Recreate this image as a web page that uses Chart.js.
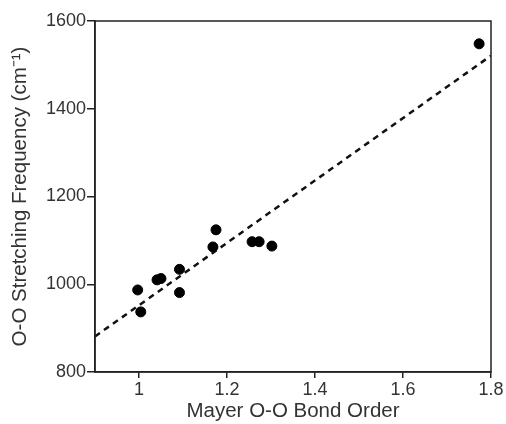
<!DOCTYPE html>
<html>
<head>
<meta charset="utf-8">
<script src="https://cdn.jsdelivr.net/npm/chart.js@4"></script>
<style>
  html, body { margin: 0; padding: 0; background: #fff; }
  #wrap { width: 506px; height: 424px; }
</style>
</head>
<body>
<div id="wrap"><canvas id="myChart"></canvas></div>
<script>
'use strict';
// Mayer bond order vs. O-O stretch
const bondOrder = [0.997, 1.004, 1.041, 1.05, 1.092, 1.092, 1.168, 1.175, 1.257, 1.273, 1.302, 1.773];
const stretchFreq = [987, 937, 1010, 1013, 1034, 981, 1085, 1124, 1097, 1097, 1087, 1548];
// linear fit ends
const fitX = [0.9, 1.8];
const fitY = [881, 1521];
const xTicks = [1, 1.2, 1.4, 1.6, 1.8];
const yTicks = [800, 1000, 1200, 1400, 1600];

const points = bondOrder.map((x, i) => ({x, y: stretchFreq[i]}));
const fitLine = fitX.map((x, i) => ({x, y: fitY[i]}));

const textColor = '#333';
const tickFont = {family: 'Liberation Sans, Arial, sans-serif', size: 18};
const titleFont = {family: 'Liberation Sans, Arial, sans-serif', size: 20.5};

// box around the plot area
const frame = {
  id: 'frame',
  afterDraw(chart) {
    const {ctx, chartArea: a} = chart;
    ctx.save();
    ctx.strokeStyle = '#222';
    ctx.lineWidth = 1.5;
    ctx.strokeRect(a.left, a.top, a.right - a.left, a.bottom - a.top);
    ctx.restore();
  },
};

const ctx = document.getElementById('myChart');
new Chart(ctx, {
  type: 'scatter',
  data: {
    datasets: [
      {
        data: points,
        backgroundColor: '#000',
        borderColor: '#000',
        pointRadius: 5,
        order: 1,
      },
      {
        type: 'line',
        data: fitLine,
        borderColor: '#111',
        borderWidth: 2.5,
        borderDash: [6, 5],
        pointRadius: 0,
        fill: false,
        order: 2,
      },
    ],
  },
  options: {
    responsive: true,
    maintainAspectRatio: false,
    animation: false,
    layout: {padding: {top: 21, right: 15, left: 0, bottom: 0}},
    plugins: {legend: {display: false}, tooltip: {enabled: false}},
    scales: {
      x: {
        type: 'linear',
        min: 0.9,
        max: 1.8,
        afterBuildTicks: (axis) => { axis.ticks = xTicks.map((v) => ({value: v})); },
        afterFit: (axis) => { axis.height = 52; },
        grid: {drawOnChartArea: false, drawTicks: true, tickLength: 6, color: '#222', lineWidth: 1.5},
        border: {display: true, color: '#222', width: 1.5},
        ticks: {color: textColor, font: tickFont, padding: 1, maxRotation: 0, callback: (v) => String(v)},
        title: {display: true, text: 'Mayer O-O Bond Order', color: textColor, font: titleFont, padding: {top: 0, bottom: 0}},
      },
      y: {
        min: 800,
        max: 1600,
        afterBuildTicks: (axis) => { axis.ticks = yTicks.map((v) => ({value: v})); },
        afterFit: (axis) => { axis.width = 95; },
        grid: {drawOnChartArea: false, drawTicks: true, tickLength: 8, color: '#222', lineWidth: 1.5},
        border: {display: true, color: '#222', width: 1.5},
        ticks: {color: textColor, font: tickFont, padding: 1, callback: (v) => String(v)},
        title: {display: true, text: 'O-O Stretching Frequency (cm\u207B\u00B9)', color: textColor, font: titleFont, padding: {top: 8, bottom: 0}},
      },
    },
  },
  plugins: [frame],
});
</script>
</body>
</html>
